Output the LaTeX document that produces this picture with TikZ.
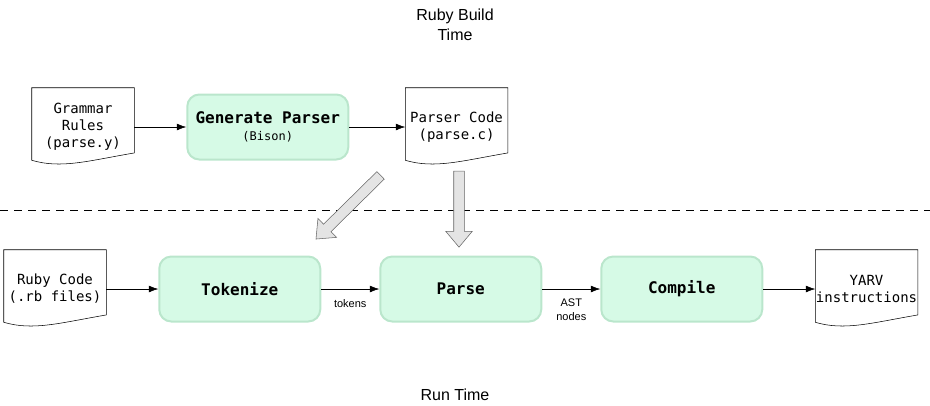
\documentclass[tikz,border=0pt]{standalone}
\usepackage{fontspec}
\setmainfont{Liberation Sans}
\setmonofont{DejaVu Sans Mono}
\usepackage{tikz}
\usetikzlibrary{positioning, arrows.meta, shapes.arrows}
\definecolor{stepfill}{RGB}{214, 250, 230}
\definecolor{stepline}{RGB}{186, 230, 204}
\definecolor{bigarrow}{RGB}{228, 228, 228}
\definecolor{bigarrowline}{RGB}{102, 102, 102}

% wavy outline of a document node
\newcommand{\docoutline}[1]{%
  \draw[thin, black] (#1.north west) -- (#1.north east) -- ([yshift=10pt]#1.south east)
    .. controls ([xshift=-35pt, yshift=4pt]#1.south east) and ([xshift=22pt, yshift=-2pt]#1.south west)
    .. ([yshift=4.5pt]#1.south west) -- cycle;}

\begin{document}
\begin{tikzpicture}[
    x=0.75pt, y=-0.75pt,
    font=\ttfamily,
    doc/.style={minimum width=76.5pt, minimum height=58.5pt, align=center, inner sep=0pt,
      font=\ttfamily\fontsize{10.5}{12.75}\selectfont},
    stepbox/.style={rectangle, rounded corners=9pt, draw=stepline, line width=1.5pt, fill=stepfill,
      minimum width=120.75pt, minimum height=48.75pt, align=center,
      font=\ttfamily\bfseries\fontsize{12}{14}\selectfont},
    flow/.style={-{Latex[length=7pt, width=5pt]}, thin, black},
    edgelabel/.style={font=\rmfamily\fontsize{8.25}{10.5}\selectfont, align=center},
    caption/.style={font=\rmfamily\fontsize{12}{15}\selectfont, align=center},
    blockarrow/.style={single arrow, draw=bigarrowline, fill=bigarrow, thin, inner sep=3.75pt,
      minimum width=19.5pt, single arrow head extend=6pt, single arrow tip angle=80}
  ]
  \useasboundingbox (0,0) rectangle (930,405);

  % Nodes
  \node[caption] (buildtime) at (455,25) {Ruby Build\\Time};
  \node[doc] (grammar) at (83,127) {Grammar\\Rules\\(parse.y)};
  \node[stepbox, right=39pt of grammar] (genparser) {Generate Parser\\[-1pt]{\mdseries\fontsize{9}{11}\selectfont(Bison)}};
  \node[doc, right=42pt of genparser] (parsercode) {Parser Code\\(parse.c)};

  \node[doc] (rubycode) at (55,289) {Ruby Code\\(.rb files)};
  \node[stepbox, right=39pt of rubycode] (tokenize) {Tokenize};
  \node[stepbox, right=43.5pt of tokenize] (parse) {Parse};
  \node[stepbox, right=43.5pt of parse] (compile) {Compile};
  \node[doc, right=39pt of compile] (yarv) {YARV\\instructions};
  \node[caption] (runtime) at (455,395) {Run Time};

  \docoutline{grammar}
  \docoutline{parsercode}
  \docoutline{rubycode}
  \docoutline{yarv}

  % Build / run divider
  \draw[thin, dash pattern=on 6pt off 4.5pt] (0,210) -- (930,210);

  % Big arrows
  \node[blockarrow, minimum height=68pt, rotate=224.6] (togen) at (350.5,205) {};
  \node[blockarrow, minimum height=57pt, rotate=-90] (toparse) at (459,206) {};

  % Edges
  \draw[flow] (grammar) -- (genparser);
  \draw[flow] (genparser) -- (parsercode);
  \draw[flow] (rubycode) -- (tokenize);
  \draw[flow] (tokenize) -- node[edgelabel, below=4pt] {tokens} (parse);
  \draw[flow] (parse) -- node[edgelabel, below=4pt] {AST\\nodes} (compile);
  \draw[flow] (compile) -- (yarv);
\end{tikzpicture}
\end{document}
